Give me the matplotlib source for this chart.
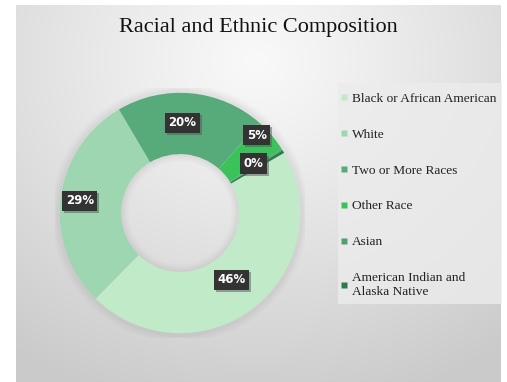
import numpy as np
import matplotlib.pyplot as plt
from matplotlib import patheffects as pe
from matplotlib.patches import Wedge, Rectangle

plt.rcParams['font.family'] = ['Liberation Serif', 'DejaVu Serif']

groups = ['Black or African American', 'White', 'Two or More Races',
          'Other Race', 'Asian', 'American Indian and\nAlaska Native']
shares = [45.8, 29.2, 20.0, 4.6, 0.2, 0.4]
colors = ['#c0eac8', '#9dd6b0', '#57aa7a', '#3cc25a', '#4fa06e', '#2e7a4f']
# tag placement: radius along the ring and small angle nudge (deg);
# the last slice carries no tag
tag_r = [0.70, 0.84, 0.75, 0.91, 0.74]
tag_da = [0, 0, 4, 5, 2]

W, H = 507, 382
fig = plt.figure(figsize=(W / 100, H / 100), dpi=100)
fig.patch.set_facecolor('white')

# grey panel with a soft radial light
bg = fig.add_axes([0, 0, 1, 1])
bg.set_xlim(0, W)
bg.set_ylim(H, 0)
bg.axis('off')
yy, xx = np.mgrid[0:H, 0:W]
d = np.hypot((xx - 255) / 1.15, yy - 60)
v = 249 - 47 * np.clip(d / 360, 0, 1) ** 1.1
img = np.dstack([v, v, v]) / 255.0
bg.imshow(img[5:, 16:501], extent=[16, 501, H, 5], aspect='auto', zorder=0)

ax = fig.add_axes([(180 - 125) / W, (H - 213 - 125) / H, 250 / W, 250 / H])
ax.axis('off')

# faint shadow round the ring and inside the hole
for r, a in [(1.07, 0.03), (1.05, 0.04), (1.03, 0.05)]:
    ax.add_patch(Wedge((0, 0), r, 0, 360, width=r - 0.99, color='#707070',
                       alpha=a, lw=0, zorder=0))
for r, a in [(0.49, 0.06), (0.47, 0.05), (0.45, 0.04)]:
    ax.add_patch(Wedge((0, 0), 0.49, 0, 360, width=0.49 - r + 0.02,
                       color='#808080', alpha=a, lw=0, zorder=3))

wedges, _ = ax.pie(shares, colors=colors, startangle=30, counterclock=False,
                   radius=1.0, wedgeprops=dict(width=0.51, lw=0))
for w in wedges:
    w.set_zorder(2)
ax.set_xlim(-1.04, 1.04)
ax.set_ylim(-1.04, 1.04)

total = sum(shares)
for w, s, r, da in zip(wedges, shares, tag_r, tag_da):
    mid = np.deg2rad((w.theta1 + w.theta2) / 2 + da)
    t = ax.text(r * np.cos(mid), r * np.sin(mid),
                f'{round(s / total * 100):.0f}%',
                ha='center', va='center', color='white', fontsize=8.5,
                fontweight='bold', family='DejaVu Sans', zorder=5,
                bbox=dict(boxstyle='square,pad=0.3', fc='#333333', ec='none'))
    t.get_bbox_patch().set_path_effects([
        pe.SimplePatchShadow(offset=(1.5, -1.5), shadow_rgbFace='#555555', alpha=0.5),
        pe.Normal()])

fig.text(0.509, 0.927, 'Racial and Ethnic Composition', ha='center', va='center',
         fontsize=16, color='#111111')

# legend panel
bg.add_patch(Rectangle((338, 83), 164, 221, fc='#ececec', ec='none', alpha=0.8,
                       zorder=1))
handles = [plt.Line2D([], [], ls='none', marker='s', ms=5, mfc=c, mec='none')
           for c in colors]
leg = fig.legend(handles, groups, loc='upper left',
                 bbox_to_anchor=(335 / W, 1 - 87 / H), frameon=False,
                 fontsize=9.6, labelspacing=1.77, handlelength=0.6,
                 handletextpad=0.3, borderaxespad=0)
for t in leg.get_texts():
    t.set_color('#222222')

fig.savefig('out.png', dpi=100)
